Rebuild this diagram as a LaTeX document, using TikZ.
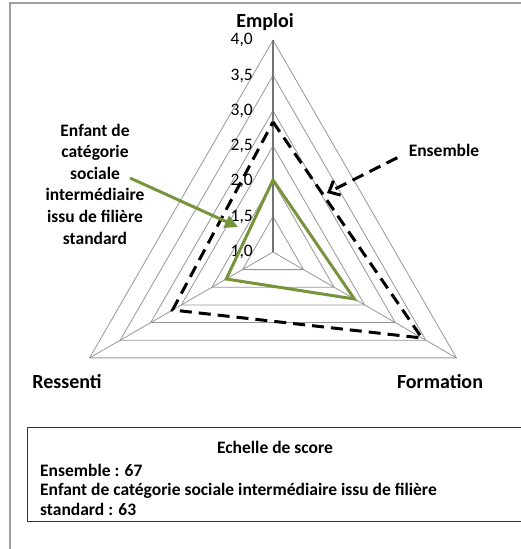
\documentclass[tikz,border=0pt]{standalone}
\usepackage{fontspec}
\setmainfont{Carlito}
\usetikzlibrary{arrows.meta}
\definecolor{chartgreen}{RGB}{119,147,60}
\definecolor{gridgray}{RGB}{150,150,150}
\tikzset{
  axislabel/.style={font=\fontsize{20}{24}\selectfont\bfseries},
  ticklabel/.style={font=\fontsize{17.5}{20}\selectfont, anchor=east, inner sep=1pt},
  serieslabel/.style={font=\fontsize{17.5}{21.6}\selectfont\bfseries, align=center},
  ring/.style={gridgray, line width=0.8pt},
  ensembleline/.style={black, line width=3pt, dash pattern=on 12pt off 7pt},
  enfantline/.style={chartgreen, line width=3pt, line join=miter},
}
\begin{document}
\begin{tikzpicture}[x=1pt,y=1pt]
  \useasboundingbox (0,0) rectangle (520,549);
  \draw[gray!75, line width=1.2pt] (10,-5) -- (10,546) -- (525,546);
  \begin{scope}[shift={(273,297)}]
    \foreach \k in {1,...,6}
      \draw[ring] (90:\k*35.3) -- (-30:\k*35.3) -- (210:\k*35.3) -- cycle;
    \draw[ring] (0,0) -- (-30:211.8) (0,0) -- (210:211.8);
    \draw[gray!90!black, line width=1.2pt] (0,0) -- (90:211.8);
    \foreach \k/\a/\b in {0/1/0,1/1/5,2/2/0,3/2/5,4/3/0,5/3/5,6/4/0}
      \node[ticklabel] (tick\k) at (-19,\k*35.3) {\a,\b};
    \draw[ensembleline] (90:130) -- (-30:172) -- (210:116) -- cycle;
    \draw[enfantline] (90:72) -- (-30:94) -- (210:54) -- cycle;
  \end{scope}
  \node[axislabel] (emploi) at (265,527) {Emploi};
  \node[axislabel] (ressenti) at (67,167) {Ressenti};
  \node[axislabel] (formation) at (440,167) {Formation};
  \node[serieslabel] (ens) at (444,399) {Ensemble};
  \node[serieslabel] (enf) at (95,365) {Enfant de\\catégorie\\sociale\\intermédiaire\\issu de filière\\standard};
  \coordinate (enstip) at (327,356);
  \coordinate (enftip) at (238,322);
  \draw[ensembleline, -{Straight Barb[length=9pt,width=16pt]}] ([shift={(-8pt,2pt)}]ens.south west) -- (enstip);
  \draw[chartgreen, line width=3pt, -{Triangle[length=13pt,width=13pt]}] ([shift={(35pt,6pt)}]enf.center) -- (enftip);
  \draw[black!80, line width=1pt] (27,121) rectangle (525,27);
  \node[serieslabel] (titre) at (275,102) {Echelle de score};
  \node[serieslabel, align=left, anchor=north west, inner sep=0pt, font=\fontsize{17.5}{19.5}\selectfont\bfseries] (score) at (40,85)
    {Ensemble : 67\\Enfant de catégorie sociale intermédiaire issu de filière\\standard : 63};
\end{tikzpicture}
\end{document}
